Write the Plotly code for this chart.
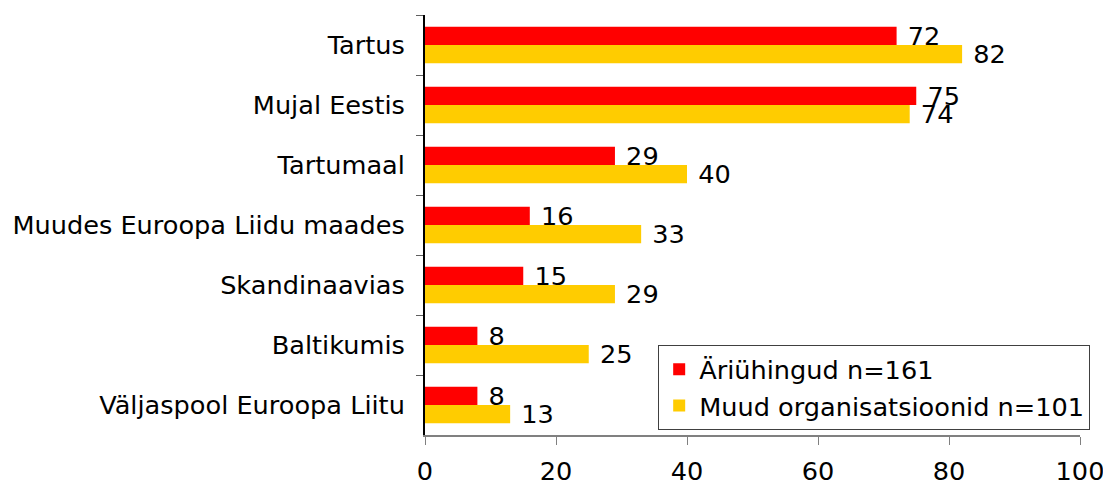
import plotly.graph_objects as go

categories = ["Tartus", "Mujal Eestis", "Tartumaal", "Muudes Euroopa Liidu maades",
              "Skandinaavias", "Baltikumis", "Väljaspool Euroopa Liitu"]
ariuhingud = [72, 75, 29, 16, 15, 8, 8]
muud = [82, 74, 40, 33, 29, 25, 13]
series_names = ["Äriühingud n=161", "Muud organisatsioonid n=101"]
x_ticks = [0, 20, 40, 60, 80, 100]

FONT = "DejaVu Sans, Verdana, sans-serif"
FS = 25.6

fig = go.Figure()
for name, vals, color in [(series_names[0], ariuhingud, "#FF0000"),
                          (series_names[1], muud, "#FFCC00")]:
    fig.add_trace(go.Bar(
        y=categories, x=vals, name=name, orientation="h",
        marker=dict(color=color, line=dict(width=0)),
        text=vals, texttemplate=" %{x}", textposition="outside",
        constraintext="none", cliponaxis=False,
        textfont=dict(family=FONT, size=FS, color="#000000"),
    ))

fig.update_layout(
    width=1103, height=482,
    margin=dict(l=425, r=23, t=15, b=47, autoexpand=False),
    paper_bgcolor="white", plot_bgcolor="white",
    barmode="group", bargap=0.39, bargroupgap=0,
    font=dict(family=FONT, size=FS, color="#000000"),
    showlegend=True,
    legend=dict(
        x=0.356, y=0.214, xanchor="left", yanchor="top",
        bordercolor="#404040", borderwidth=1, bgcolor="white",
        font=dict(family=FONT, size=FS, color="#000000"),
        traceorder="normal", tracegroupgap=0,
    ),
    xaxis=dict(
        range=[0, 100], tickvals=x_ticks, showgrid=False, zeroline=False,
        showline=True, linecolor="#808080", linewidth=2,
        ticks="outside", ticklen=8, tickcolor="#808080", tickwidth=1,
        ticklabelstandoff=4, automargin=False, ticklabeloverflow="allow",
        tickfont=dict(family=FONT, size=FS), fixedrange=True,
    ),
    yaxis=dict(
        autorange="reversed", showgrid=False, zeroline=False,
        showline=True, linecolor="#000000", linewidth=2,
        ticks="outside", tickson="boundaries", ticklen=7,
        tickcolor="#606060", tickwidth=1, ticklabelstandoff=13,
        automargin=False, ticklabeloverflow="allow",
        tickfont=dict(family=FONT, size=FS),
    ),
)

fig.write_html(
    "out.html",
    config={"displayModeBar": False},
    post_script="document.body.style.margin='0';document.body.style.overflow='hidden';",
)
